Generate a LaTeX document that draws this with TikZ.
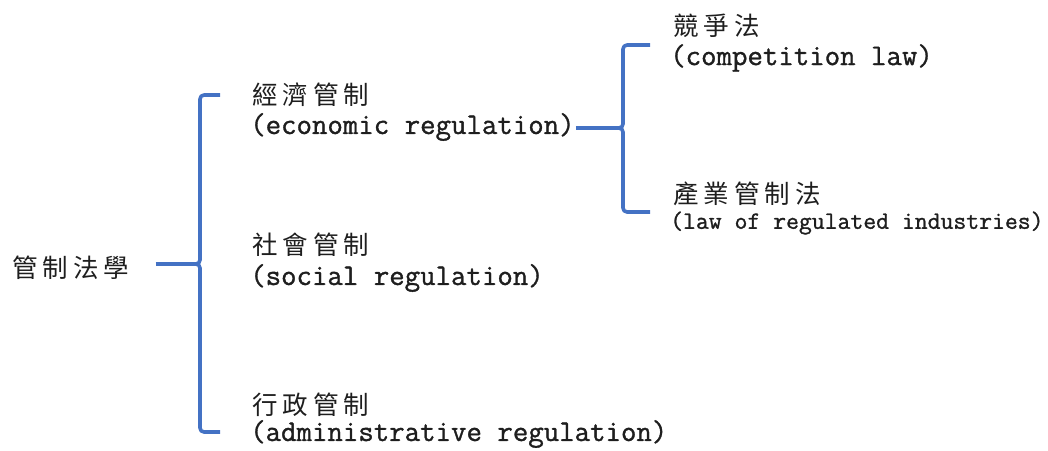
\documentclass[tikz,border=0pt]{standalone}
\usepackage{fontspec}
\newfontfamily\cjk[LetterSpace=20]{Noto Sans CJK TC}
\newfontfamily\lat[FakeBold=1.1]{Latin Modern Mono}
\definecolor{txt}{HTML}{1E1E1E}
\definecolor{brblue}{HTML}{4472C4}
\begin{document}
\begin{tikzpicture}[x=1pt,y=-1pt,
  zh/.style={anchor=west, inner sep=0pt, text=txt, font=\cjk\fontsize{25.5}{25}\selectfont},
  en/.style={anchor=west, inner sep=0pt, text=txt, font=\lat\fontsize{30}{30}\selectfont},
  ensmall/.style={en, font=\lat\fontsize{25}{25}\selectfont},
  brk/.style={draw=brblue, line width=3.6pt, rounded corners=4pt, line join=round}]
\useasboundingbox (0,0) rectangle (1048,450);

% labels
\node[zh] (root) at (12,268) {管制法學};
\node[zh] (eco)  at (252,95)  {經濟管制};
\node[en] (ecoE) at (250,127) {(economic regulation)};
\node[zh] (soc)  at (252,245) {社會管制};
\node[en] (socE) at (250,278) {(social regulation)};
\node[zh] (adm)  at (252,405) {行政管制};
\node[en] (admE) at (250,434) {(administrative regulation)};
\node[zh] (comp) at (673,26)  {競爭法};
\node[en] (compE) at (670,58) {(competition law)};
\node[zh] (ind)  at (673,194) {產業管制法};
\node[ensmall] (indE) at (670,223) {(law of regulated industries)};

% brace joints
\coordinate (J1) at (200,264);
\coordinate (J2) at (623,128);

% left brace
\draw[brk] (J1 -| root.east) ++(26,0) -- (J1);
\draw[brk] (220,95) -- (200,95) -- (J1) -- ++(-14,0);
\draw[brk] (220,432) -- (200,432) -- (J1) -- ++(-14,0);

% right brace
\draw[brk] (J2 -| ecoE.east) ++(1,0) -- (J2);
\draw[brk] (650,45) -- (623,45) -- (J2) -- ++(-14,0);
\draw[brk] (650,212) -- (623,212) -- (J2) -- ++(-14,0);
\end{tikzpicture}
\end{document}
